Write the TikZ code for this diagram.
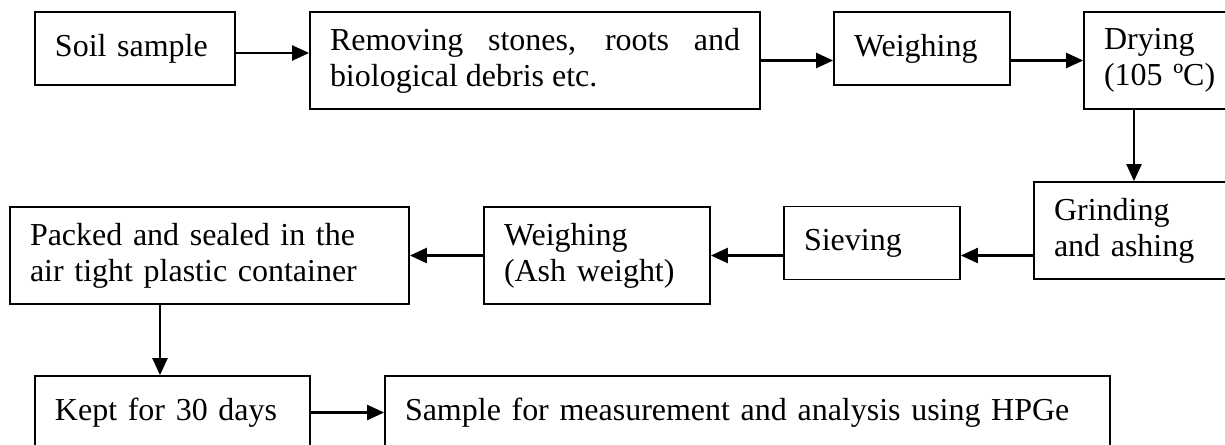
\documentclass[tikz,border=0pt]{standalone}
\usepackage{fontspec}
\setmainfont{Liberation Serif}
\usetikzlibrary{arrows.meta}
\tikzset{
  flow box/.style = {
    shape = rectangle,
    draw,
    line width = 1pt,
    align = left,
    text width = #1,
    inner xsep = 0.4cm,
    inner ysep = 0.1cm},
  short box/.style = {minimum height = 1.46cm},
  tall box/.style = {minimum height = 1.94cm}
}

\begin{document}
\begin{tikzpicture}[line width = 1.3pt, >={Triangle[length=0.34cm,width=0.3cm]},
    font = \fontsize{18.2}{20.5}\selectfont]
  \useasboundingbox (0,0) rectangle (24.5,-8.88);
  \clip (0,0) rectangle (24.5,-8.88);
  % first row
  \node[flow box = 3.2cm, short box] (soil) at (2.70,-0.97) {Soil sample};
  \node[flow box = 8.2cm, tall box, align = justify] (removing) at (10.70,-1.21) {Removing stones, roots and \mbox{biological} debris etc.};
  \node[flow box = 2.72cm, short box] (weighing) at (18.44,-0.97) {Weighing};
  \node[flow box = 2.52cm, tall box] (drying) at (23.34,-1.21) {Drying\\(105 ºC)};
  % second row
  \node[flow box = 3.2cm, tall box] (grinding) at (22.68,-4.61) {Grinding\\and ashing};
  \node[flow box = 2.72cm, short box] (sieving) at (17.44,-4.86) {Sieving};
  \node[flow box = 3.72cm, tall box] (weighash) at (11.94,-5.11) {Weighing\\(Ash weight)};
  \node[flow box = 7.18cm, tall box] (packed) at (4.19,-5.11) {Packed and sealed in the\\air tight plastic container};
  % third row
  \node[flow box = 4.7cm, short box] (kept) at (3.45,-8.25) {Kept for 30 days};
  \node[flow box = 13.7cm, short box] (sample) at (14.95,-8.25) {Sample for measurement and analysis using HPGe};
  \draw[->] ([yshift=-0.09cm]soil.east) -- ([yshift=-0.09cm]soil.east -| removing.west);
  \draw[->] (removing) -- (removing -| weighing.west);
  \draw[->] (drying -| weighing.east) -- (drying);
  \draw[->] (grinding |- drying.south) -- (grinding);
  \draw[->] (grinding.west |- weighash) -- (sieving.east |- weighash);
  \draw[->] (sieving.west |- weighash) -- (weighash);
  \draw[->] (weighash) -- (packed);
  \draw[->] ([xshift=-0.99cm]packed.south) -- ([xshift=-0.99cm]packed.south |- kept.north);
  \draw[->] (kept) -- (sample);
\end{tikzpicture}
\end{document}
